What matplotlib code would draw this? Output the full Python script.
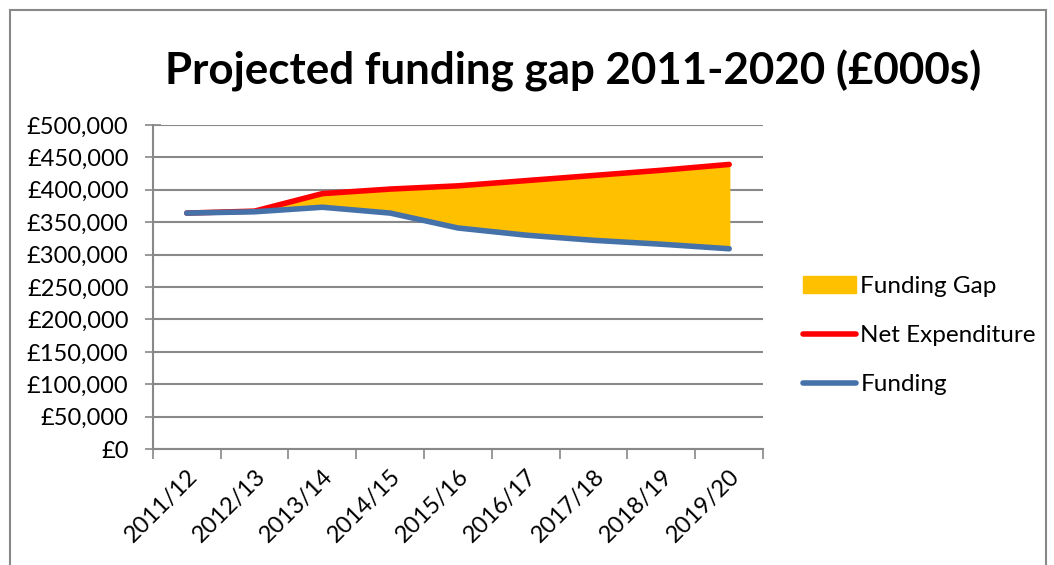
import matplotlib.pyplot as plt
from matplotlib.patches import Rectangle
from matplotlib.ticker import FuncFormatter

years = ['2011/12', '2012/13', '2013/14', '2014/15', '2015/16',
         '2016/17', '2017/18', '2018/19', '2019/20']
net_expenditure = [364, 367, 394, 401, 406, 414, 422, 430, 439]   # £000s x 1000
funding = [364, 366, 373, 364, 341, 330, 322, 316, 309]

net_expenditure = [v * 1000 for v in net_expenditure]
funding = [v * 1000 for v in funding]

plt.rcParams['font.family'] = ['Lato', 'DejaVu Sans']

fig = plt.figure(figsize=(10.54, 5.65), dpi=100)
ax = fig.add_axes([0.145, 0.205, 0.579, 0.574])

x = list(range(len(years)))
ax.fill_between(x, funding, net_expenditure, color='#FFC000', label='Funding Gap', zorder=2)
ax.plot(x, net_expenditure, color='#FF0000', lw=4, solid_capstyle='round', label='Net Expenditure', zorder=3)
ax.plot(x, funding, color='#4672AA', lw=4, solid_capstyle='round', label='Funding', zorder=4)

ax.set_xlim(-0.5, len(years) - 0.5)
ax.set_ylim(0, 500000)
ax.set_yticks(range(0, 500001, 50000))
ax.yaxis.set_major_formatter(FuncFormatter(lambda v, p: '£{:,.0f}'.format(v)))
ax.set_xticks(x)
ax.set_xticklabels(years, rotation=45, ha='right', rotation_mode='anchor')
ax.set_xticks([i - 0.5 for i in range(len(years) + 1)], minor=True)
ax.tick_params(axis='x', which='major', length=0, labelsize=17, pad=12)
ax.tick_params(axis='x', which='minor', length=7, width=1.2, color='#888888')
ax.tick_params(axis='y', length=11, width=1.2, color='#888888', direction='inout', labelsize=17, pad=12)

ax.grid(axis='y', color='#888888', lw=1.5, zorder=0)
ax.set_axisbelow(True)
for s in ['top', 'right']:
    ax.spines[s].set_visible(False)
for s in ['left', 'bottom']:
    ax.spines[s].set_color('#888888')
    ax.spines[s].set_linewidth(1.5)

fig.text(0.544, 0.875, 'Projected funding gap 2011-2020 (£000s)',
         ha='center', va='center', fontsize=31.6, fontweight='bold')

ax.legend(loc='center left', bbox_to_anchor=(1.03, 0.35), frameon=False,
          fontsize=17.5, handlelength=2.15, labelspacing=1.15, handletextpad=0.2)

fig.patches.append(Rectangle((0.0095, -0.01), 0.983, 0.993, transform=fig.transFigure,
                             fill=False, edgecolor='#888888', lw=1.5))

fig.savefig('out.png', dpi=100)
